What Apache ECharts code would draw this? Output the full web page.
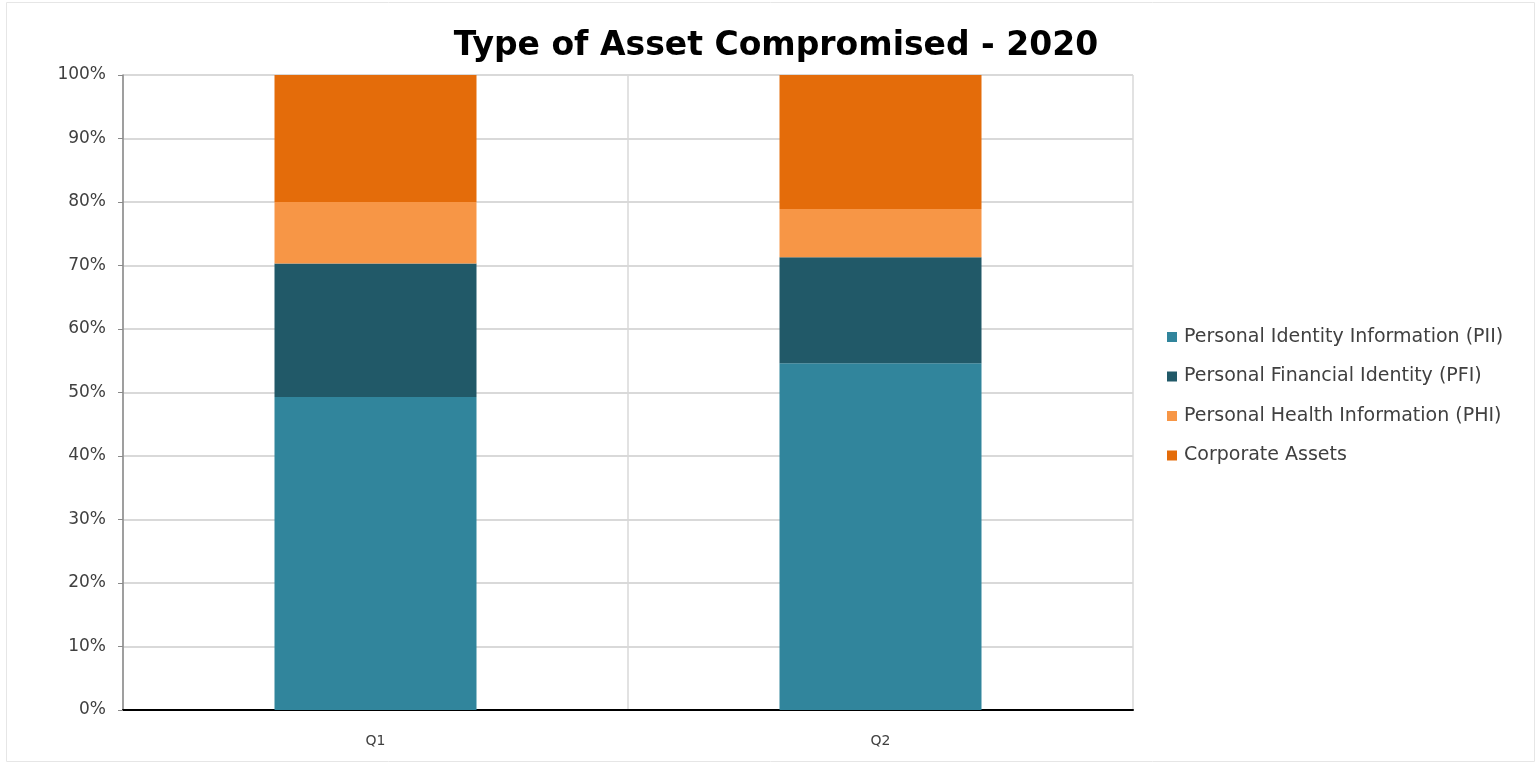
<!DOCTYPE html>
<html>
<head>
<meta charset="utf-8">
<script src="https://cdn.jsdelivr.net/npm/echarts@6/dist/echarts.min.js"></script>
<style>html,body{margin:0;padding:0;background:#fff}#c{width:1540px;height:767px}</style>
</head>
<body>
<div id="c"></div>
<script>
var categories = ['Q1', 'Q2'];
var seriesNames = ['Personal Identity Information (PII)', 'Personal Financial Identity (PFI)', 'Personal Health Information (PHI)', 'Corporate Assets'];
var pii = [49.3, 54.6];
var pfi = [21.0, 16.7];
var phi = [9.7, 7.6];
var corporate = [20.0, 21.1];
var yTicks = [0, 10, 20, 30, 40, 50, 60, 70, 80, 90, 100];
var colors = ['#31859c', '#215968', '#f79646', '#e46c0a'];

var font = '"DejaVu Sans", sans-serif';
var chart = echarts.init(document.getElementById('c'));
var values = [pii, pfi, phi, corporate];
chart.setOption({
  animation: false,
  title: {
    text: 'Type of Asset Compromised - 2020',
    left: 771, top: 25, textAlign: 'center',
    textStyle: { fontFamily: font, fontSize: 33, fontWeight: 'bold', color: '#000' }
  },
  graphic: [{
    type: 'rect', shape: { x: 6.5, y: 2.5, width: 1528, height: 759 },
    style: { fill: 'none', stroke: '#e6e6e6', lineWidth: 1 }, silent: true
  }],
  legend: {
    orient: 'vertical', left: 1162, top: 322,
    icon: 'rect', itemWidth: 10, itemHeight: 10, itemGap: 19.5,
    data: seriesNames,
    textStyle: { fontFamily: font, fontSize: 19, lineHeight: 20, color: '#404040', padding: [0, 0, 0, 2] }
  },
  grid: { left: 123, right: 407, top: 75, bottom: 57 },
  xAxis: {
    type: 'category', data: categories,
    axisLine: { lineStyle: { color: '#000', width: 2 } },
    axisTick: { show: false },
    axisLabel: { fontFamily: font, fontSize: 14, color: '#404040', margin: 24 },
    splitLine: { show: true, lineStyle: { color: '#d9d9d9', width: 1.5 } }
  },
  yAxis: {
    type: 'value', min: 0, max: 100, interval: 10,
    axisLine: { show: true, lineStyle: { color: '#898989', width: 1.5 } },
    axisTick: { show: true, length: 5, lineStyle: { color: '#898989' } },
    axisLabel: { fontFamily: font, fontSize: 17, color: '#404040', margin: 17,
      formatter: function (v) { return yTicks.indexOf(v) >= 0 ? v + '%' : ''; } },
    splitLine: { lineStyle: { color: '#cccccc', width: 1.5 } }
  },
  series: seriesNames.map(function (n, i) {
    return {
      name: n, type: 'bar', stack: 'total', barWidth: '40%',
      data: values[i], itemStyle: { color: colors[i] }
    };
  })
});
</script>
</body>
</html>
